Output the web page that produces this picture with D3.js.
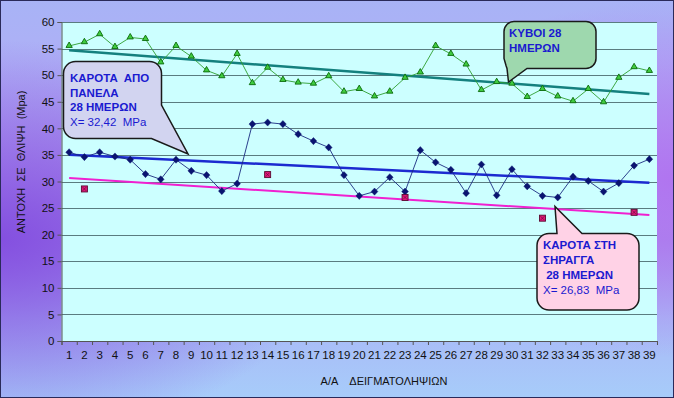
<!DOCTYPE html>
<html>
<head>
<meta charset="utf-8">
<script src="https://cdn.jsdelivr.net/npm/d3@7"></script>
<style>
  body { margin: 0; }
  svg { display: block; font-family: "Liberation Sans", Arial, sans-serif; }
  text { white-space: pre; }
</style>
</head>
<body>
<div id="chart"></div>
<script>
// sample numbers on the x axis
const samples = [1, 2, 3, 4, 5, 6, 7, 8, 9, 10, 11, 12, 13, 14, 15, 16, 17, 18, 19, 20,
  21, 22, 23, 24, 25, 26, 27, 28, 29, 30, 31, 32, 33, 34, 35, 36, 37, 38, 39];
// ΚΥΒΟΙ 28 ΗΜΕΡΩΝ
const cubes = [55.5, 56.2, 57.7, 55.3, 57.1, 56.8, 52.4, 55.5, 53.5, 50.9,
  49.8, 54.0, 48.5, 51.4, 49.1, 48.6, 48.4, 49.8, 46.9, 47.4,
  46.0, 46.9, 49.5, 50.5, 55.5, 54.0, 52.0, 47.2, 48.7, 48.4,
  45.9, 47.4, 46.0, 45.1, 47.4, 44.9, 49.5, 51.5, 50.8];
// ΚΑΡΟΤΑ ΑΠΟ ΠΑΝΕΛΑ
const panelCores = [35.5, 34.6, 35.5, 34.7, 34.1, 31.4, 30.4, 34.1, 32.0, 31.2,
  28.2, 29.6, 40.8, 41.1, 40.8, 38.9, 37.6, 36.4, 31.2, 27.3,
  28.1, 30.8, 28.1, 35.9, 33.6, 32.2, 27.8, 33.2, 27.4, 32.3,
  29.1, 27.3, 27.0, 30.9, 30.1, 28.1, 29.7, 33.0, 34.2];
// ΚΑΡΟΤΑ ΣΤΗ ΣΗΡΑΓΓΑ (only some samples)
const tunnelSamples = [2, 14, 23, 32, 38];
const tunnelCores = [28.6, 31.3, 27.0, 23.1, 24.2];
const yTicks = [0, 5, 10, 15, 20, 25, 30, 35, 40, 45, 50, 55, 60];

const W = 674, H = 398;
const plotLeft = 61.5, plotRight = 657, plotTop = 22, plotBottom = 341;

const svg = d3.select("#chart").append("svg")
  .attr("width", W)
  .attr("height", H);

// background
const defs = svg.append("defs");
const bg = defs.append("linearGradient").attr("id", "bg")
  .attr("x1", 0).attr("y1", 0).attr("x2", 0).attr("y2", 1);
[[0, "#a8b3f6"], [0.15, "#aeb0f6"], [0.45, "#b29cf0"], [0.6, "#a98eec"], [0.8, "#a9b8f6"], [1, "#a7ccfa"]]
  .forEach(s => bg.append("stop").attr("offset", s[0]).attr("stop-color", s[1]));
const lp = defs.append("radialGradient").attr("id", "lp")
  .attr("cx", 0).attr("cy", 0.6).attr("r", 0.5);
lp.append("stop").attr("offset", 0).attr("stop-color", "#8450e0").attr("stop-opacity", 1);
lp.append("stop").attr("offset", 1).attr("stop-color", "#8450e0").attr("stop-opacity", 0);
const rp = defs.append("radialGradient").attr("id", "rp")
  .attr("cx", 1).attr("cy", 0.45).attr("r", 0.45);
rp.append("stop").attr("offset", 0).attr("stop-color", "#b070f0").attr("stop-opacity", 0.9);
rp.append("stop").attr("offset", 1).attr("stop-color", "#b070f0").attr("stop-opacity", 0);

svg.append("rect").attr("width", W).attr("height", H).attr("fill", "url(#bg)");
svg.append("rect").attr("width", W).attr("height", H).attr("fill", "url(#lp)");
svg.append("rect").attr("width", W).attr("height", H).attr("fill", "url(#rp)");
svg.append("rect").attr("x", 0.5).attr("y", 0.5).attr("width", W - 1).attr("height", H - 1)
  .attr("fill", "none").attr("stroke", "#2a2a5a");

// scales
const x = d3.scaleBand().domain(samples).range([plotLeft, plotRight]);
const xl = d3.scaleLinear().domain([0.5, samples.length + 0.5]).range([plotLeft, plotRight]);
const y = d3.scaleLinear().domain([0, 60]).range([plotBottom, plotTop]);
const cx = d => x(d) + x.bandwidth() / 2;

// plot area
svg.append("rect")
  .attr("x", plotLeft).attr("y", plotTop)
  .attr("width", plotRight - plotLeft).attr("height", plotBottom - plotTop)
  .attr("fill", "#ccffff");

svg.append("g").selectAll("line")
  .data(yTicks.filter(d => d > 0))
  .enter().append("line")
  .attr("x1", plotLeft).attr("x2", plotRight)
  .attr("y1", d => Math.round(y(d)) + 0.5).attr("y2", d => Math.round(y(d)) + 0.5)
  .attr("stroke", "#5a7c80").attr("stroke-width", 1);

// axes
const yAxis = svg.append("g")
  .attr("transform", "translate(" + plotLeft + ",0)")
  .call(d3.axisLeft(y).tickValues(yTicks).tickSize(4).tickPadding(3));
yAxis.selectAll("text").attr("font-size", 11.5).attr("fill", "#111").attr("font-family", "Liberation Sans, Arial");
yAxis.selectAll("line, path").attr("stroke", "#555");

const bounds = samples.map(d => d - 0.5).concat([samples.length + 0.5]);
const xTicks = svg.append("g")
  .attr("transform", "translate(0," + plotBottom + ")")
  .call(d3.axisBottom(xl).tickValues(bounds).tickSize(4).tickFormat(""));
xTicks.selectAll("line, path").attr("stroke", "#555");

svg.append("g").selectAll("text")
  .data(samples)
  .enter().append("text")
  .attr("x", d => cx(d))
  .attr("y", plotBottom + 18)
  .attr("text-anchor", "middle")
  .attr("font-size", 11.5)
  .attr("fill", "#111")
  .text(d => d);

svg.append("text")
  .attr("transform", "translate(25," + 162 + ") rotate(-90)")
  .attr("text-anchor", "middle")
  .attr("font-size", 11)
  .attr("fill", "#111")
  .text("ΑΝΤΟΧΗ  ΣΕ  ΘΛΙΨΗ  (Mpa)");

svg.append("text")
  .attr("x", 384)
  .attr("y", 385)
  .attr("text-anchor", "middle")
  .attr("font-size", 11)
  .attr("fill", "#111")
  .text("Α/Α    ΔΕΙΓΜΑΤΟΛΗΨΙΩΝ");

// linear trend (least squares) drawn across the whole category range
function trend(xs, ys) {
  const mx = d3.mean(xs), my = d3.mean(ys);
  const b = d3.sum(xs, (v, i) => (v - mx) * (ys[i] - my)) / d3.sum(xs, v => (v - mx) * (v - mx));
  const a = my - b * mx;
  const x0 = samples[0], x1 = samples[samples.length - 1];
  return [[x0, a + b * x0], [x1, a + b * x1]];
}
const trendLine = d3.line().x(d => cx(d[0])).y(d => y(d[1]));

svg.append("path")
  .attr("d", trendLine(trend(samples, cubes)))
  .attr("stroke", "#14807e").attr("stroke-width", 2.5).attr("fill", "none");
svg.append("path")
  .attr("d", trendLine(trend(samples, panelCores)))
  .attr("stroke", "#1c2ad0").attr("stroke-width", 2.5).attr("fill", "none");
svg.append("path")
  .attr("d", trendLine(trend(tunnelSamples, tunnelCores)))
  .attr("stroke", "#f020d0").attr("stroke-width", 2).attr("fill", "none");

// series lines
const seriesLine = d3.line().x((d, i) => cx(samples[i])).y(d => y(d));
svg.append("path")
  .attr("d", seriesLine(cubes))
  .attr("stroke", "#2e9e2e").attr("stroke-width", 0.9).attr("fill", "none");
svg.append("path")
  .attr("d", seriesLine(panelCores))
  .attr("stroke", "#1a2a80").attr("stroke-width", 0.9).attr("fill", "none");

// markers
svg.append("g").selectAll("path")
  .data(cubes)
  .enter().append("path")
  .attr("transform", (d, i) => "translate(" + cx(samples[i]) + "," + (y(d) - 0.3) + ")")
  .attr("d", d3.symbol(d3.symbolTriangle).size(17))
  .attr("fill", "#40cc40").attr("stroke", "#0a6a0a").attr("stroke-width", 0.9);

svg.append("g").selectAll("path")
  .data(panelCores)
  .enter().append("path")
  .attr("transform", (d, i) => "translate(" + cx(samples[i]) + "," + y(d) + ")")
  .attr("d", "M0,-3.6L3.4,0L0,3.6L-3.4,0Z")
  .attr("fill", "#0a1470").attr("stroke", "#0a1470").attr("stroke-width", 0.4);

const sq = svg.append("g").selectAll("g")
  .data(tunnelCores)
  .enter().append("g")
  .attr("transform", (d, i) => "translate(" + cx(tunnelSamples[i]) + "," + y(d) + ")");
sq.append("rect")
  .attr("x", -3).attr("y", -3)
  .attr("width", 6).attr("height", 6)
  .attr("fill", "#e0187a").attr("stroke", "#5a0a30").attr("stroke-width", 0.9);
sq.append("path")
  .attr("d", "M-2,-2L2,2M2,-2L-2,2")
  .attr("stroke", "#5a0a30").attr("stroke-width", 0.6);

// callouts
function box(bx, by, bw, bh, r) {
  return { bx: bx, by: by, bw: bw, bh: bh, r: r };
}
function calloutPath(b, tail) {
  const { bx, by, bw, bh, r } = b;
  const p = d3.path();
  p.moveTo(bx + r, by);
  if (tail.side === "top") {
    p.lineTo(tail.a, by); p.lineTo(tail.tip[0], tail.tip[1]); p.lineTo(tail.b, by);
  }
  p.lineTo(bx + bw - r, by);
  p.arcTo(bx + bw, by, bx + bw, by + r, r);
  if (tail.side === "corner") {
    p.lineTo(bx + bw, tail.a);
    p.lineTo(tail.tip[0], tail.tip[1]);
    p.lineTo(tail.b, by + bh);
  } else {
    p.lineTo(bx + bw, by + bh - r);
    p.arcTo(bx + bw, by + bh, bx + bw - r, by + bh, r);
  }
  if (tail.side === "bottom") {
    p.lineTo(tail.b, by + bh); p.lineTo(tail.tip[0], tail.tip[1]); p.lineTo(tail.a, by + bh);
    p.lineTo(bx + 2, by + bh - 3);
    p.lineTo(bx, by + bh - r);
  } else {
    p.lineTo(bx + r, by + bh);
    p.arcTo(bx, by + bh, bx, by + bh - r, r);
  }
  p.lineTo(bx, by + r);
  p.arcTo(bx, by, bx + r, by, r);
  p.closePath();
  return p.toString();
}
function callout(b, tail, fill, lines) {
  svg.append("path")
    .attr("d", calloutPath(b, tail))
    .attr("fill", fill).attr("stroke", "#1a1a1a").attr("stroke-width", 1.5);
  const t = svg.append("text")
    .attr("font-size", 11.5)
    .attr("fill", "#1a1ad0");
  lines.forEach(l => {
    t.append("tspan")
      .attr("x", l.x).attr("y", l.y)
      .attr("font-weight", l.bold ? "bold" : "normal")
      .text(l.t);
  });
}

callout(box(63.5, 61.5, 98, 77, 12),
  { side: "corner", a: 105, b: 151.5, tip: [188, 154] }, "#d2d4f0",
  [{ x: 70, y: 82, t: "ΚΑΡΟΤΑ  ΑΠΟ", bold: true },
   { x: 70, y: 96.5, t: "ΠΑΝΕΛΑ", bold: true },
   { x: 70, y: 111, t: "28 ΗΜΕΡΩΝ", bold: true },
   { x: 70, y: 126, t: "X= 32,42  MPa", bold: false }]);

callout(box(504, 21.5, 92, 47, 10),
  { side: "bottom", a: 507, b: 527, tip: [508.5, 82] }, "#9ed8ae",
  [{ x: 509, y: 37, t: "ΚΥΒΟΙ 28", bold: true },
   { x: 509, y: 52, t: "ΗΜΕΡΩΝ", bold: true }]);

callout(box(537, 233.5, 102, 76.5, 12),
  { side: "top", a: 557, b: 582, tip: [555, 206.5] }, "#ffd2e6",
  [{ x: 543, y: 249, t: "ΚΑΡΟΤΑ ΣΤΗ", bold: true },
   { x: 543, y: 263.5, t: "ΣΗΡΑΓΓΑ", bold: true },
   { x: 543, y: 278.5, t: " 28 ΗΜΕΡΩΝ", bold: true },
   { x: 543, y: 293.5, t: "X= 26,83  MPa", bold: false }]);
</script>
</body>
</html>
